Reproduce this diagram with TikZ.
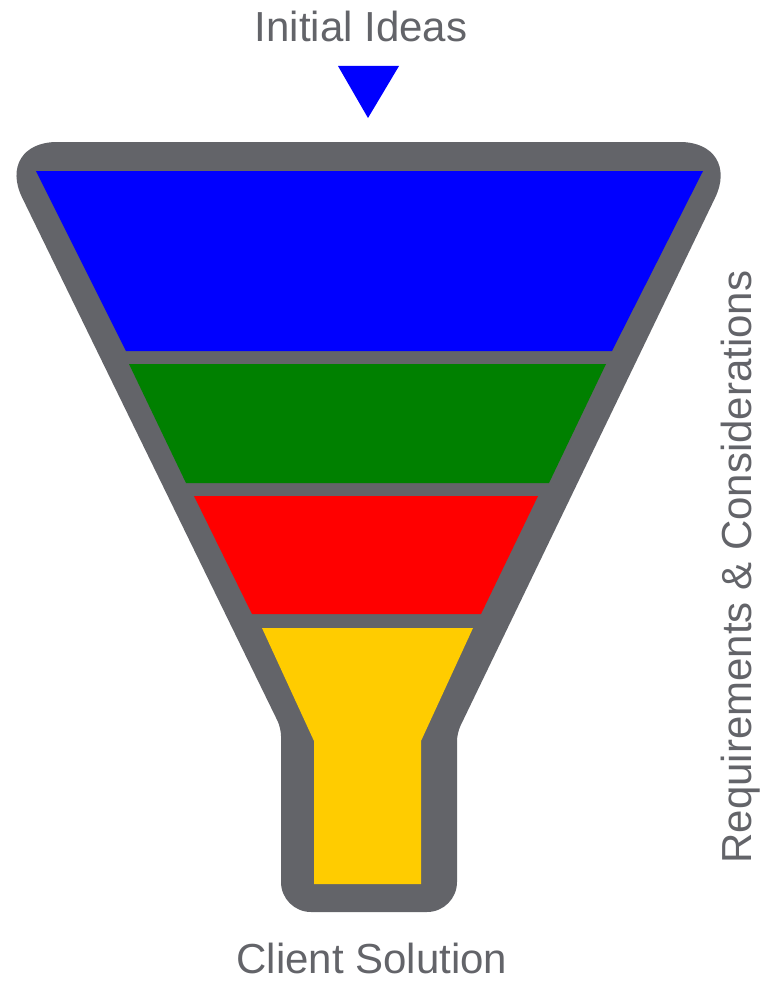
\documentclass[tikz,border=0pt]{standalone}
\usepackage{fontspec}
\setmainfont{Liberation Sans}
\usetikzlibrary{positioning}
\definecolor{fungray}{RGB}{99,100,105}
\definecolor{funblue}{RGB}{0,0,255}
\definecolor{fungreen}{RGB}{0,128,0}
\definecolor{funred}{RGB}{255,0,0}
\definecolor{funyellow}{RGB}{255,204,0}
\newcommand{\funnelband}[2]{%
  \fill[#1] #2 -- cycle;
}

\begin{document}
\begin{tikzpicture}[x=1pt,y=-1pt,
    funlabel/.style={text=fungray,font=\fontsize{42}{48}\selectfont,inner sep=0pt}]
  \useasboundingbox (0,0) rectangle (765,982);
  % outer shell
  \fill[fungray] (368,142) [rounded corners=62] -- (742,142)
    [rounded corners=8] -- (457,733) [rounded corners=30] -- (457,912)
    -- (281,912) [rounded corners=8] -- (281,728)
    [rounded corners=62] -- (-5,142) [sharp corners] -- cycle;
  % bands
  \funnelband{funblue}{(36,171) -- (703,171) -- (612,351) -- (126,351)}
  \funnelband{fungreen}{(129,364) -- (606,364) -- (549,483) -- (186,483)}
  \funnelband{funred}{(194,496) -- (538,496) -- (481,614) -- (252,614)}
  \funnelband{funyellow}{(262,628) -- (473,628) -- (421,741) -- (421,884)
    -- (314,884) -- (314,741)}
  % marker
  \fill[funblue] (338,66) -- (399,66) -- (368,118) -- cycle;
  \node[funlabel,anchor=base] (ideas) at (361,42) {Initial Ideas};
  \node[funlabel,anchor=base,text depth=0pt] (solution) at (372,973) {Client Solution};
  \node[funlabel,anchor=base,rotate=90] (reqs) at (751,567)
    {Requirements \& Considerations};
\end{tikzpicture}
\end{document}
